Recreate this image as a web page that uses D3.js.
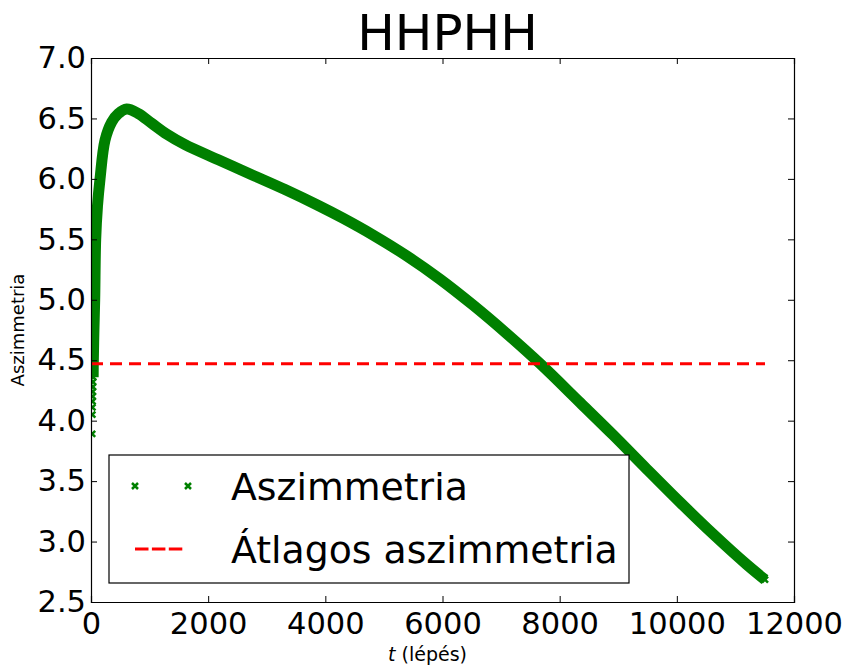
<!DOCTYPE html>
<html lang="hu">
<head>
<meta charset="UTF-8">
<title>HHPHH</title>
<script src="https://d3js.org/d3.v7.min.js"></script>
<style>
  body { margin: 0; background: #fff; }
  text { font-family: "DejaVu Sans", sans-serif; fill: #000; }
</style>
</head>
<body>
<svg id="chart" width="848" height="666"></svg>
<script>
// data
const steps = [20, 23, 25, 27, 29, 31, 33, 35, 37, 39, 50, 63, 80, 110, 154, 239, 353, 466, 609, 808, 1036, 1300,
  1605, 2173, 2743, 3312, 3880, 4300, 4819, 5389, 5958, 6526, 7096, 7664, 8347, 8916, 9486, 10054, 10623, 11193, 11505];
const asym = [3.89, 4.05, 4.11, 4.16, 4.20, 4.24, 4.28, 4.32, 4.36, 4.48, 4.75, 5.00, 5.50, 5.77, 6.00, 6.32, 6.47, 6.54, 6.578, 6.54, 6.46, 6.368,
  6.283, 6.158, 6.035, 5.912, 5.78, 5.675, 5.534, 5.363, 5.17, 4.954, 4.72, 4.472, 4.15, 3.88, 3.60, 3.325, 3.06, 2.81, 2.685];
const meanAsym = 4.47;
const xTicks = [0, 2000, 4000, 6000, 8000, 10000, 12000];
const yTicks = [2.5, 3.0, 3.5, 4.0, 4.5, 5.0, 5.5, 6.0, 6.5, 7.0];
const title = "HHPHH";
const legendLabels = ["Aszimmetria", "Átlagos aszimmetria"];

const margin = { top: 58, right: 54, bottom: 64, left: 91 };
const width = 848 - margin.left - margin.right;
const height = 666 - margin.top - margin.bottom;

const svg = d3.select("#chart");
const g = svg.append("g").attr("transform", `translate(${margin.left},${margin.top})`);

const x = d3.scaleLinear().domain([0, 12000]).range([0, width]);
const y = d3.scaleLinear().domain([2.5, 7.0]).range([height, 0]);

svg.append("defs").append("clipPath").attr("id", "plotclip")
  .append("rect").attr("width", width).attr("height", height);

const points = steps.map((t, i) => ({ t, v: asym[i] }));
const plot = g.append("g").attr("clip-path", "url(#plotclip)");

// the dense marker band, drawn as a thick line
const line = d3.line().x(d => x(d.t)).y(d => y(d.v)).curve(d3.curveCatmullRom.alpha(0.5));
plot.append("path")
  .datum(points.filter(d => d.t >= 37))
  .attr("d", line)
  .attr("fill", "none")
  .attr("stroke", "#008000")
  .attr("stroke-width", 11);

function xMark(sel, s) {
  return sel.append("path")
    .attr("d", `M${-s},${-s}L${s},${s}M${-s},${s}L${s},${-s}`)
    .attr("stroke", "#008000")
    .attr("stroke-width", 2.5)
    .attr("fill", "none");
}

plot.selectAll("g.mk")
  .data(points)
  .enter().append("g")
  .attr("class", "mk")
  .attr("transform", d => `translate(${x(d.t)},${y(d.v)})`)
  .each(function () { xMark(d3.select(this), 3); });

// mean line
plot.append("line")
  .attr("x1", x(0)).attr("x2", x(steps[steps.length - 1]))
  .attr("y1", y(meanAsym)).attr("y2", y(meanAsym))
  .attr("stroke", "#ff0000")
  .attr("stroke-width", 3)
  .attr("stroke-dasharray", "12,7");

// axes: ticks inward on all four sides
const tickLen = 6;
const ax = [
  d3.axisBottom(x).tickValues(xTicks).tickSize(-tickLen).tickPadding(10).tickFormat(d3.format("d")),
  d3.axisTop(x).tickValues(xTicks).tickSize(-tickLen).tickFormat(""),
  d3.axisLeft(y).tickValues(yTicks).tickSize(-tickLen).tickPadding(5).tickFormat(d3.format(".1f")),
  d3.axisRight(y).tickValues(yTicks).tickSize(-tickLen).tickFormat("")
];
const pos = [`translate(0,${height})`, "translate(0,0)", "translate(0,0)", `translate(${width},0)`];
ax.forEach((a, i) => {
  const s = g.append("g").attr("transform", pos[i]).call(a);
  s.select(".domain").attr("stroke", "#000").attr("stroke-width", 1.2);
  s.selectAll(".tick line").attr("stroke", "#000");
  s.selectAll("text").style("font-size", "30.5px").attr("fill", "#000");
});

// title and axis labels
svg.append("text")
  .attr("x", margin.left + width / 2 + 5).attr("y", 50)
  .attr("text-anchor", "middle")
  .style("font-size", "50px")
  .text(title);

const xl = svg.append("text")
  .attr("x", margin.left + width / 2 - 15).attr("y", 661)
  .attr("text-anchor", "middle")
  .style("font-size", "19px");
xl.append("tspan").style("font-style", "italic").text("t");
xl.append("tspan").text(" (lépés)");

svg.append("text")
  .attr("transform", "translate(24,330) rotate(-90)")
  .attr("text-anchor", "middle")
  .style("font-size", "18px")
  .text("Aszimmetria");

// legend
const lg = svg.append("g");
lg.append("rect")
  .attr("x", 109).attr("y", 455).attr("width", 520).attr("height", 128)
  .attr("fill", "#fff").attr("stroke", "#000").attr("stroke-width", 1.2);
[135, 188].forEach(px => xMark(lg.append("g").attr("transform", `translate(${px},486)`), 3));
lg.append("line")
  .attr("x1", 135).attr("x2", 183).attr("y1", 549).attr("y2", 549)
  .attr("stroke", "#ff0000").attr("stroke-width", 3)
  .attr("stroke-dasharray", "13.5,3.4");
legendLabels.forEach((t, i) => {
  lg.append("text")
    .attr("x", 231).attr("y", 500 + i * 63)
    .style("font-size", "37.8px")
    .text(t);
});
</script>
</body>
</html>
